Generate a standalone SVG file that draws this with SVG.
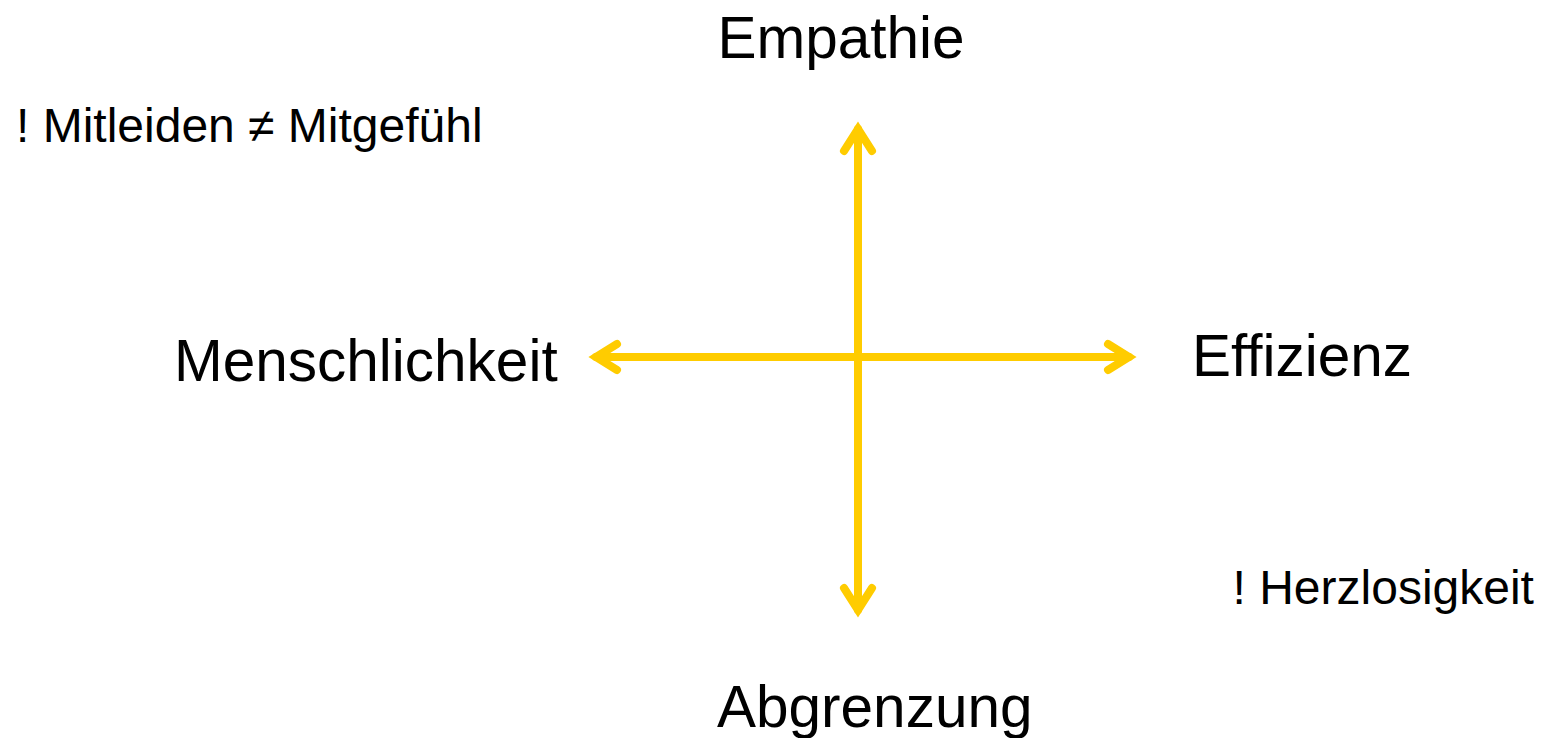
<svg xmlns="http://www.w3.org/2000/svg" width="1542" height="738" viewBox="0 0 1542 738">
<style>
  .lbl { font-family: "Liberation Sans", Arial, sans-serif; fill: #000; }
  .big { font-size: 58.5px; }
  .note { font-size: 48px; }
  .ax { fill: none; stroke: #FFCC00; stroke-width: 8; stroke-linecap: round; stroke-linejoin: miter; }
</style>
<rect width="1542" height="738" fill="#fff"/>
<g id="connectors">
  <line class="ax" x1="858" y1="129" x2="858" y2="610"/>
  <line class="ax" x1="596" y1="357" x2="1129" y2="357"/>
  <polyline class="ax" points="844,151 858,129 872,151"/>
  <polyline class="ax" points="844,588 858,610 872,588"/>
  <polyline class="ax" points="617,344 596,357 617,370"/>
  <polyline class="ax" points="1108,344 1129,357 1108,370"/>
</g>
<g id="empathie"><text class="lbl big" x="717.5" y="58">Empathie</text></g>
<g id="menschlichkeit"><text class="lbl big" x="174" y="381">Menschlichkeit</text></g>
<g id="effizienz"><text class="lbl big" x="1192" y="376">Effizienz</text></g>
<g id="abgrenzung"><text class="lbl big" x="717" y="727">Abgrenzung</text></g>
<g id="mitleiden"><text class="lbl note" x="16" y="142">! Mitleiden ≠ Mitgefühl</text></g>
<g id="herzlosigkeit"><text class="lbl note" x="1232.5" y="604">! Herzlosigkeit</text></g>
</svg>
